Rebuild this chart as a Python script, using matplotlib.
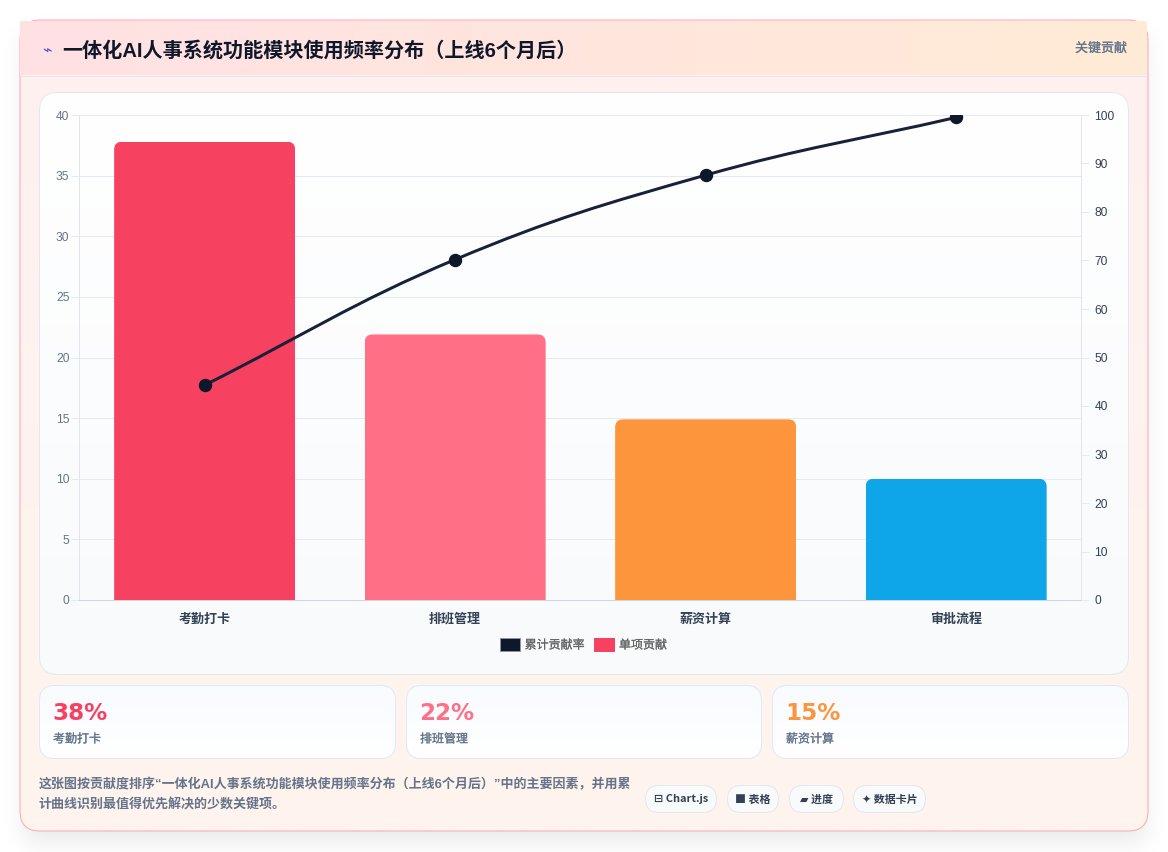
import numpy as np
import matplotlib
matplotlib.use('Agg')
import matplotlib.pyplot as plt
import matplotlib.patheffects as pe
from matplotlib.patches import FancyBboxPatch, PathPatch, Patch, Rectangle
from matplotlib.path import Path

plt.rcParams['font.family'] = ['Noto Sans CJK SC', 'DejaVu Sans']
LATIN_FIRST = ['Liberation Sans', 'Noto Sans CJK SC', 'DejaVu Sans']

W, H = 1168, 852

# data
categories = ['考勤打卡', '排班管理', '薪资计算', '审批流程']
single_values = [37.8, 21.9, 14.9, 10.0]
cumulative = [44.3, 70.2, 87.6, 99.5]
bar_colors = ['#f64260', '#ff6f86', '#fd953d', '#0ea5e9']
left_ticks = [0, 5, 10, 15, 20, 25, 30, 35, 40]
right_ticks = [0, 10, 20, 30, 40, 50, 60, 70, 80, 90, 100]

card_values = ['38%', '22%', '15%']
card_labels = ['考勤打卡', '排班管理', '薪资计算']
card_colors = ['#f64260', '#ff6f86', '#fd953d']

title = '一体化AI人事系统功能模块使用频率分布（上线6个月后）'
note_1 = '这张图按贡献度排序“一体化AI人事系统功能模块使用频率分布（上线6个月后）”中的主要因素，并用累'
note_2 = '计曲线识别最值得优先解决的少数关键项。'
chip_texts = ['⊟ Chart.js', '■ 表格', '▰ 进度', '✦ 数据卡片']


def px(n):
    # 像素 -> 磅
    return n * 0.72


def medium(color):
    # regular 글꼴을 살짝 두껍게
    return [pe.withStroke(linewidth=0.15, foreground=color)]


def round_box(x0, y0, x1, y1, r, **kw):
    return FancyBboxPatch((x0 + r, y0 + r), x1 - x0 - 2 * r, y1 - y0 - 2 * r,
                          boxstyle='round,pad=%f,rounding_size=%f' % (r, r), **kw)


def gradient(ax, x0, y0, x1, y1, c0, c1, vertical=True, clip=None, z=1):
    c0 = np.array(matplotlib.colors.to_rgb(c0))
    c1 = np.array(matplotlib.colors.to_rgb(c1))
    t = np.linspace(0, 1, 256)
    img = c0[None, :] * (1 - t[:, None]) + c1[None, :] * t[:, None]
    img = img[:, None, :] if vertical else img[None, :, :]
    im = ax.imshow(img, extent=(x0, x1, y1, y0), aspect='auto', zorder=z, interpolation='bilinear')
    if clip is not None:
        im.set_clip_path(clip)
    return im


fig = plt.figure(figsize=(W / 100, H / 100), dpi=100, facecolor='white')

# 배경 layer
bg = fig.add_axes([0, 0, 1, 1])
bg.set_xlim(0, W)
bg.set_ylim(H, 0)
bg.axis('off')

# card shadow
yy, xx = np.mgrid[0:H, 0:W]
mask = ((xx >= 24) & (xx <= 1144) & (yy >= 34) & (yy <= 841)).astype(float)
kernel = np.exp(-np.linspace(-2.5, 2.5, 61) ** 2 / 2)
kernel /= kernel.sum()
for axis_no in (0, 1):
    mask = np.apply_along_axis(lambda a: np.convolve(a, kernel, mode='same'), axis_no, mask)
shadow = np.zeros((H, W, 4))
shadow[..., 3] = mask * 0.09
bg.imshow(shadow, extent=(0, W, H, 0), aspect='auto', zorder=0)
bg.set_xlim(0, W)
bg.set_ylim(H, 0)

card = round_box(20, 20, 1148, 831, 20, facecolor='none', edgecolor='none', zorder=1)
bg.add_patch(card)
gradient(bg, 20, 20, 1148, 831, '#fff0f1', '#fff5ed', clip=card, z=1)
bg.add_patch(round_box(20, 20, 1148, 831, 20, facecolor='none', edgecolor='#ffa6b0', linewidth=0.72, zorder=2))

# header
header = Rectangle((20, 21), 1127, 54, facecolor='none', edgecolor='none', zorder=3)
bg.add_patch(header)
gradient(bg, 20, 21, 1147, 75, '#ffe1e4', '#ffebd6', vertical=False, clip=header, z=3)
bg.plot([20, 1147], [75.5, 75.5], color='#e8e4ee', lw=0.72, zorder=4)
bg.text(47, 50.5, '⌁', fontsize=px(16), color='#4f52e8', ha='center', va='center', zorder=5, family=['DejaVu Sans'])
bg.text(62, 51, title, fontsize=px(20.1), fontweight='bold', color='#0f172a', ha='left', va='center', zorder=5,
        family=LATIN_FIRST)
bg.text(1127, 48.5, '关键贡献', fontsize=px(13), color='#64748b', ha='right', va='center', zorder=5,
        path_effects=medium('#64748b'))

# chart panel
panel = round_box(39.5, 92.5, 1128.5, 674.5, 18, facecolor='none', edgecolor='none', zorder=3)
bg.add_patch(panel)
gradient(bg, 39, 92, 1129, 675, '#ffffff', '#f8fafc', clip=panel, z=3)
bg.add_patch(round_box(39.5, 92.5, 1128.5, 674.5, 18, facecolor='none', edgecolor='#e2e8f0', linewidth=0.72, zorder=4))

# stat cards
card_x = [(39.5, 395.5), (406.5, 761.5), (772.5, 1128.5)]
for (x0, x1), val, lab, col in zip(card_x, card_values, card_labels, card_colors):
    box = round_box(x0, 685.5, x1, 758.5, 15, facecolor='none', edgecolor='none', zorder=3)
    bg.add_patch(box)
    gradient(bg, x0, 685, x1, 759, '#f8fbff', '#ffffff', clip=box, z=3)
    bg.add_patch(round_box(x0, 685.5, x1, 758.5, 15, facecolor='none', edgecolor='#dde8f8', linewidth=0.72, zorder=4))
    bg.text(x0 + 12.5, 713, val, fontsize=px(23), fontweight='bold', color=col, ha='left', va='center', zorder=5,
            family=['DejaVu Sans'])
    bg.text(x0 + 13.5, 739, lab, fontsize=px(12), color='#64748b', ha='left', va='center', zorder=5,
            path_effects=medium('#64748b'))

# footer note
bg.text(39, 785, note_1, fontsize=px(13), fontweight='bold', color='#64748b', ha='left', va='center', zorder=5,
        family=LATIN_FIRST)
bg.text(39, 805, note_2, fontsize=px(13), fontweight='bold', color='#64748b', ha='left', va='center', zorder=5,
        family=LATIN_FIRST)

# chips
chip_x = [(645, 717), (727, 779), (789, 844), (853, 926)]
for (x0, x1), txt in zip(chip_x, chip_texts):
    bg.add_patch(round_box(x0 + 0.5, 785.5, x1 - 0.5, 812.5, 13.5, facecolor='#f8fafc', edgecolor='#e2e8f0',
                           linewidth=0.72, zorder=4))
    bg.text((x0 + x1) / 2, 799.5, txt, fontsize=px(11), fontweight='bold', color='#334155', ha='center', va='center',
            zorder=5)

# chart axes
ax = fig.add_axes([79.4 / W, (H - 600) / H, 1002 / W, 485 / H], facecolor='none')
ax.set_xlim(-0.5, 3.5)
ax.set_ylim(0, 40)
ax.set_axisbelow(True)
ax.yaxis.grid(True, color='#e5e9f0', linewidth=0.72)
ax.set_yticks(left_ticks)
ax.set_xticks(range(len(categories)))
ax.set_xticklabels(categories, fontsize=px(13), fontweight='bold', color='#334155')
ax.tick_params(axis='x', length=0, pad=px(12))
ax.tick_params(axis='y', length=px(8), width=0.72, color='#e5e9f0', labelcolor='#64748b', labelsize=px(12), pad=px(2))
for lab in ax.get_yticklabels():
    lab.set_family(['Liberation Sans'])
    lab.set_va('center_baseline')

bars = ax.bar(range(len(categories)), single_values, width=0.7225, color=bar_colors, edgecolor='none', zorder=2)

# 막대 위쪽 모서리만 둥글게
rx, ry = 8 / 250.5, 8 / 12.125
for b in bars:
    x0, x1 = b.get_x(), b.get_x() + b.get_width()
    top = b.get_height()
    verts = [(x0, 0), (x0, top - ry), (x0, top), (x0 + rx, top), (x1 - rx, top), (x1, top), (x1, top - ry), (x1, 0),
             (x0, 0)]
    codes = [Path.MOVETO, Path.LINETO, Path.CURVE3, Path.CURVE3, Path.LINETO, Path.CURVE3, Path.CURVE3, Path.LINETO,
             Path.CLOSEPOLY]
    b.set_clip_path(PathPatch(Path(verts, codes), transform=ax.transData))

ax.spines['top'].set_visible(False)
ax.spines['left'].set_color('#e2e5ec')
ax.spines['right'].set_color('#e2e5ec')
ax.spines['bottom'].set_color('#cfd5e0')
for s in ax.spines.values():
    s.set_linewidth(0.72)

ax2 = ax.twinx()
ax2.set_ylim(0, 100)
ax2.set_yticks(right_ticks)
ax2.tick_params(axis='y', length=px(8), width=0.72, color='#e5e9f0', labelcolor='#334155', labelsize=px(12), pad=px(5))
for lab in ax2.get_yticklabels():
    lab.set_family(['Liberation Sans'])
    lab.set_va('center_baseline')
for side in ['top', 'left', 'bottom']:
    ax2.spines[side].set_visible(False)
ax2.spines['right'].set_color('#e2e5ec')
ax2.spines['right'].set_linewidth(0.72)

# chart.js 스타일 곡선 (tension 0.4)
xs = list(range(len(categories)))
pts = ax2.transData.transform(np.column_stack([xs, cumulative]))
n = len(pts)
verts = [pts[0]]
codes = [Path.MOVETO]
tension = 0.4
cp_in, cp_out = [None] * n, [None] * n
for i in range(n):
    prev_p, cur, next_p = pts[max(i - 1, 0)], pts[i], pts[min(i + 1, n - 1)]
    d01, d12 = np.linalg.norm(cur - prev_p), np.linalg.norm(next_p - cur)
    s01, s12 = d01 / (d01 + d12), d12 / (d01 + d12)
    cp_in[i] = cur - tension * s01 * (next_p - prev_p)
    cp_out[i] = cur + tension * s12 * (next_p - prev_p)
for i in range(n - 1):
    verts += [cp_out[i], cp_in[i + 1], pts[i + 1]]
    codes += [Path.CURVE4, Path.CURVE4, Path.CURVE4]
curve = PathPatch(Path(ax2.transData.inverted().transform(np.array(verts)), codes), facecolor='none',
                  edgecolor='#18203a', linewidth=px(3), transform=ax2.transData, zorder=3)
ax2.add_patch(curve)
ax2.plot(xs, cumulative, linestyle='none', marker='o', markersize=px(12), color='#0f172a', zorder=4)

handles = [Patch(facecolor='#0f172a', edgecolor='#8a93a3', linewidth=0.72, label='累计贡献率'),
           Patch(facecolor='#f64260', edgecolor='#f64260', linewidth=0.72, label='单项贡献')]
leg = ax2.legend(handles=handles, loc='center', bbox_to_anchor=((583 - 79) / 1002, -45 / 485), ncol=2, frameon=False,
                 prop={'size': px(12)}, labelcolor='#666666', handlelength=20 / 12, handleheight=1.2,
                 handletextpad=0.4, columnspacing=0.8, borderpad=0, borderaxespad=0)
for t in leg.get_texts():
    t.set_path_effects(medium('#666666'))

fig.savefig('out.png', dpi=100)
